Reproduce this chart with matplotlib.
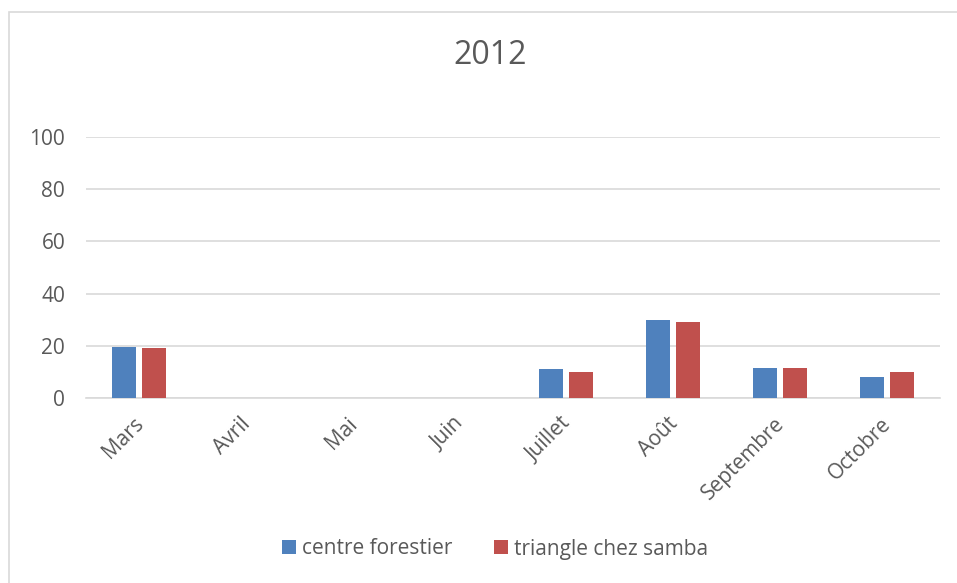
#!/usr/bin/env python3

import numpy as np
import matplotlib
matplotlib.use("Agg")
import matplotlib.pyplot as plt
from matplotlib.patches import Rectangle
from matplotlib.transforms import ScaledTranslation

months = ["Mars", "Avril", "Mai", "Juin", "Juillet", "Août", "Septembre", "Octobre"]
centre_forestier = [19.5, 0, 0, 0, 11.2, 29.9, 11.4, 8.2]
triangle_chez_samba = [19.0, 0, 0, 0, 9.9, 29.1, 11.5, 9.9]
y_ticks = [0, 20, 40, 60, 80, 100]

TEXT = "#595959"
GRID = "#d9d9d9"

plt.rcParams["font.family"] = ["Open Sans", "DejaVu Sans"]


def main():
    fig = plt.figure(figsize=(9.57, 5.83), dpi=100)
    # chart frame (only top/left visible in the reference)
    fig.patches.append(Rectangle((9 / 957, -0.1), 1.2, (583 - 12) / 583 + 0.1,
                                 transform=fig.transFigure, fill=False,
                                 edgecolor=GRID, linewidth=1.2))
    ax = fig.add_axes([86 / 957, (583 - 398) / 583, (940 - 86) / 957, (398 - 137) / 583])

    x = np.arange(len(months))
    w = 0.225
    off = 0.14
    ax.bar(x - off, centre_forestier, w, color="#4f81bd", label="centre forestier", zorder=3)
    ax.bar(x + off, triangle_chez_samba, w, color="#c0504d", label="triangle chez samba", zorder=3)

    ax.set_xlim(-0.5, len(months) - 0.5)
    ax.set_ylim(0, 100)
    ax.set_yticks(y_ticks)
    ax.yaxis.grid(True, color=GRID, linewidth=1.2, zorder=0)
    ax.set_axisbelow(True)
    for s in ["top", "right", "left"]:
        ax.spines[s].set_visible(False)
    ax.spines["bottom"].set_color(GRID)
    ax.spines["bottom"].set_linewidth(1.2)

    ax.set_xticks(x)
    ax.set_xticklabels(months, rotation=45, ha="right", rotation_mode="anchor")
    ax.tick_params(axis="both", length=0, colors=TEXT, labelsize=15)
    ax.tick_params(axis="y", pad=15)
    ax.tick_params(axis="x", pad=11)
    shift = ScaledTranslation(-6 / 100, 0, fig.dpi_scale_trans)
    for lab in ax.get_xticklabels():
        lab.set_transform(lab.get_transform() + shift)

    fig.text(0.512, 1 - 55 / 583, "2012", ha="center", va="center", fontsize=23, color=TEXT)

    leg = fig.legend(loc="center", bbox_to_anchor=(495 / 957, 1 - 549 / 583), ncol=2,
                     frameon=False, fontsize=15, handlelength=0.65, handleheight=0.65,
                     handletextpad=0.3, columnspacing=2.0)
    for t in leg.get_texts():
        t.set_color(TEXT)

    plt.savefig("out.png", dpi=100)


if __name__ == "__main__":
    main()
